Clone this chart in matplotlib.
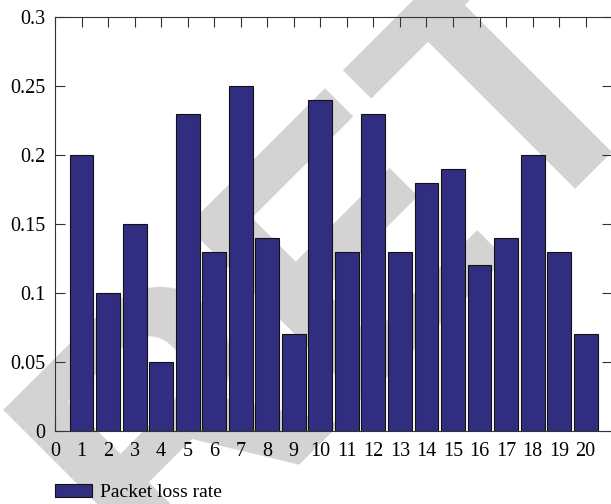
import numpy as np
import matplotlib.pyplot as plt
from matplotlib.patches import Patch

# Packet loss rate per node
nodes = list(range(1, 21))
loss_rate = [0.20, 0.10, 0.15, 0.05, 0.23, 0.13, 0.25, 0.14, 0.07, 0.24,
             0.13, 0.23, 0.13, 0.18, 0.19, 0.12, 0.14, 0.20, 0.13, 0.07]
yticks = [0, 0.05, 0.1, 0.15, 0.2, 0.25, 0.3]
ytick_labels = ['0', '0.05', '0.1', '0.15', '0.2', '0.25', '0.3']

plt.rcParams['font.family'] = ['Liberation Serif', 'DejaVu Serif']

fig = plt.figure(figsize=(6.11, 5.04), dpi=100)
ax = fig.add_axes([0.09, 0.145, 0.912, 0.821])

# retraction watermark, drawn behind the axes
fig.text(155 / 611, 1 - 585 / 504, 'RETRACTED', fontsize=260, color='#d3d3d3',
         rotation=45, rotation_mode='anchor', ha='left', va='baseline',
         family='Liberation Sans', fontweight='bold', zorder=-1)
ax.patch.set_alpha(0)

ax.bar(nodes, loss_rate, width=0.9, color='#312e81', edgecolor='#111111',
       linewidth=0.8, zorder=2)

ax.set_xlim(0, 21)
ax.set_ylim(0, 0.3)
ax.set_xticks(range(0, 21))
ax.set_yticks(yticks)
ax.set_yticklabels(ytick_labels)
ax.tick_params(direction='in', top=True, right=True, labelsize=14.5, length=7,
               color='#333333')
ax.tick_params(axis='y', pad=7)
ax.tick_params(axis='x', pad=8)
for s in ax.spines.values():
    s.set_color('#333333')

fig.legend(handles=[Patch(facecolor='#312e81', edgecolor='#111111', linewidth=0.8)],
           labels=['Packet loss rate'], loc='lower left', bbox_to_anchor=(0.09, 0.005),
           frameon=False, fontsize=14, handlelength=1.9, handleheight=0.7,
           handletextpad=0.4, borderpad=0, borderaxespad=0)

fig.savefig('out.png', dpi=100)
